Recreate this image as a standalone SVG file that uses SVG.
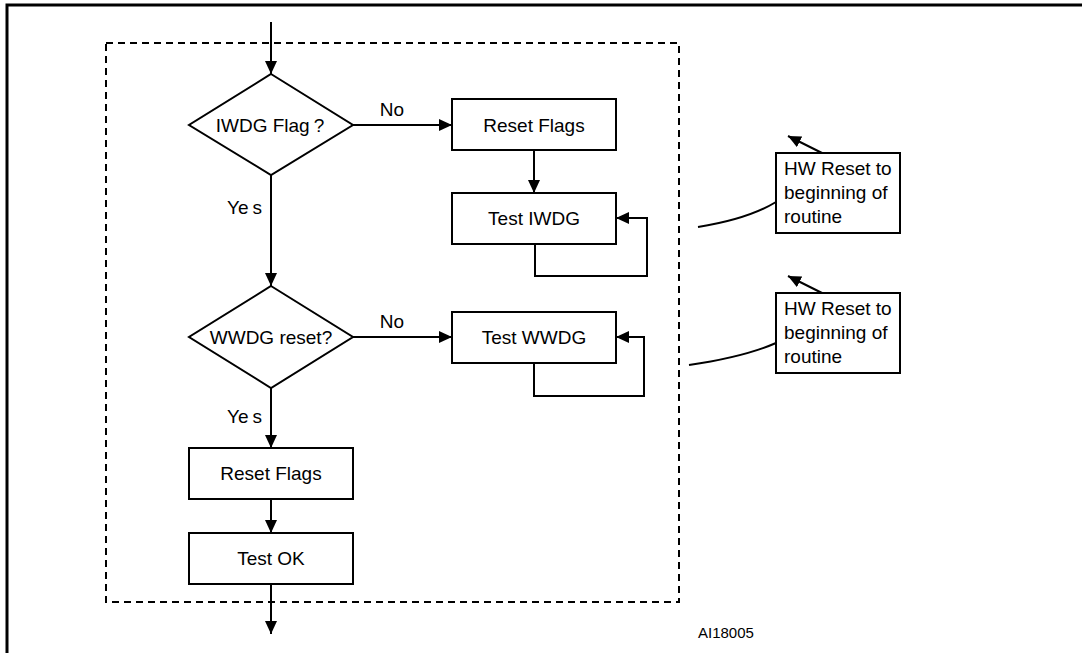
<svg xmlns="http://www.w3.org/2000/svg" width="1082" height="653" viewBox="0 0 1082 653">
<defs>
<marker id="ah" markerUnits="userSpaceOnUse" markerWidth="14" markerHeight="12" refX="13" refY="6" orient="auto">
<path d="M0,0 L13,6 L0,12 z" fill="#000"/>
</marker>
<style>
.box{fill:#fff;stroke:#000;stroke-width:2}
.t{font-family:"Liberation Sans",Arial,sans-serif;font-size:19px;fill:#000}
.c{text-anchor:middle}
.ln{fill:none;stroke:#000;stroke-width:2}
.ar{fill:none;stroke:#000;stroke-width:2;marker-end:url(#ah)}
</style>
</defs>
<rect width="1082" height="653" fill="#fff"/>
<path d="M7,653 V5 H1082" fill="none" stroke="#000" stroke-width="3"/>
<rect x="106" y="43" width="573" height="559" fill="none" stroke="#000" stroke-width="2" stroke-dasharray="7 5"/>

<g id="connectors">
<line class="ar" x1="271" y1="22" x2="271" y2="74"/>
<line class="ar" x1="353" y1="125" x2="452" y2="125"/>
<line class="ar" x1="534" y1="150" x2="534" y2="193"/>
<path class="ar" d="M535,244 V276 H647 V218 H616"/>
<line class="ar" x1="271" y1="175" x2="271" y2="286"/>
<line class="ar" x1="353" y1="337" x2="452" y2="337"/>
<path class="ar" d="M534,363 V396 H644 V337 H616"/>
<line class="ar" x1="271" y1="388" x2="271" y2="448"/>
<line class="ar" x1="271" y1="499" x2="271" y2="533"/>
<line class="ar" x1="271" y1="584" x2="271" y2="634"/>
<line class="ar" x1="822" y1="153" x2="788" y2="136"/>
<line class="ar" x1="822" y1="293" x2="788" y2="276"/>
<path class="ln" d="M698,227 Q748,219 776,202"/>
<path class="ln" d="M689,365 Q744,357 776,343"/>
<text class="t c" x="392" y="116">No</text>
<text class="t" x="227" y="214">Ye<tspan dx="4">s</tspan></text>
<text class="t c" x="392" y="328">No</text>
<text class="t" x="227" y="423">Ye<tspan dx="4">s</tspan></text>
</g>

<g id="iwdg-flag">
<polygon class="box" points="271,74 353,125 271,175 189,125"/>
<text class="t c" x="270" y="132">IWDG Flag<tspan dx="4">?</tspan></text>
</g>
<g id="reset-flags-1">
<rect class="box" x="452" y="99" width="164" height="51"/>
<text class="t c" x="534" y="132">Reset Flags</text>
</g>
<g id="test-iwdg">
<rect class="box" x="452" y="193" width="164" height="51"/>
<text class="t c" x="534" y="225">Test IWDG</text>
</g>
<g id="wwdg-reset">
<polygon class="box" points="271,286 353,337 271,388 189,337"/>
<text class="t c" x="271" y="344">WWDG reset?</text>
</g>
<g id="test-wwdg">
<rect class="box" x="452" y="312" width="164" height="51"/>
<text class="t c" x="534" y="344">Test WWDG</text>
</g>
<g id="reset-flags-2">
<rect class="box" x="189" y="448" width="164" height="51"/>
<text class="t c" x="271" y="480">Reset Flags</text>
</g>
<g id="test-ok">
<rect class="box" x="189" y="533" width="164" height="51"/>
<text class="t c" x="271" y="565">Test OK</text>
</g>
<g id="hw-reset-1">
<rect class="box" x="776" y="153" width="124" height="80"/>
<text class="t" x="784" y="175">HW Reset to</text>
<text class="t" x="784" y="199">beginning of</text>
<text class="t" x="784" y="223">routine</text>
</g>
<g id="hw-reset-2">
<rect class="box" x="776" y="293" width="124" height="80"/>
<text class="t" x="784" y="315">HW Reset to</text>
<text class="t" x="784" y="339">beginning of</text>
<text class="t" x="784" y="363">routine</text>
</g>
<text class="t" x="698" y="638" style="font-size:15px">AI18005</text>
</svg>
